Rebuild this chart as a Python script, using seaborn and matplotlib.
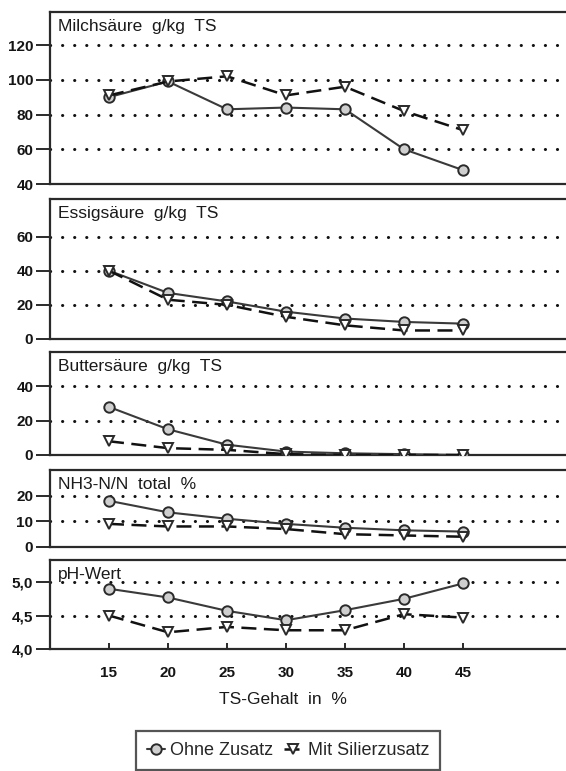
import numpy as np
import pandas as pd
import matplotlib
matplotlib.use("Agg")
import matplotlib.pyplot as plt
import seaborn as sns

# TS-Gehalt (x-Achse)
ts_gehalt = [15, 20, 25, 30, 35, 40, 45]
varianten = ["Ohne Zusatz", "Mit Silierzusatz"]

# Werte je Panel: (ohne Zusatz, mit Silierzusatz)
milch_ohne = [90, 99, 83, 84, 83, 60, 48]
milch_mit = [91, 99, 102, 91, 96, 82, 71]
essig_ohne = [40, 27, 22, 16, 12, 10, 9]
essig_mit = [40, 23, 20, 13, 8, 5, 5]
butter_ohne = [28, 15, 6, 2, 1, 0.5, 0]
butter_mit = [8, 4, 3, 0.5, 0, 0, 0]
nh3_ohne = [18, 13.5, 11, 9, 7.5, 6.5, 6]
nh3_mit = [9, 8, 8, 7, 5, 4.5, 4]
ph_ohne = [4.90, 4.77, 4.57, 4.43, 4.58, 4.75, 4.98]
ph_mit = [4.50, 4.25, 4.33, 4.28, 4.28, 4.52, 4.47]

titel = ["Milchsäure  g/kg  TS", "Essigsäure  g/kg  TS", "Buttersäure  g/kg  TS",
         "NH3-N/N  total  %", "pH-Wert"]
y_ticks = [[40, 60, 80, 100, 120], [0, 20, 40, 60], [0, 20, 40],
           [0, 10, 20], [4.0, 4.5, 5.0]]
y_ticklabels = [["40", "60", "80", "100", "120"], ["0", "20", "40", "60"],
                ["0", "20", "40"], ["0", "10", "20"], ["4,0", "4,5", "5,0"]]
y_limits = [(40, 139), (0, 82), (0, 60), (0, 30), (4.0, 5.33)]

werte = [(milch_ohne, milch_mit), (essig_ohne, essig_mit),
         (butter_ohne, butter_mit), (nh3_ohne, nh3_mit), (ph_ohne, ph_mit)]

sns.set_theme(style="white")
plt.rcParams["font.family"] = ["Liberation Sans", "DejaVu Sans"]

W, H = 566, 771
fig = plt.figure(figsize=(W / 100, H / 100), dpi=100)

# panel boxes in pixels (top, bottom); left edge 50 px, runs past the right edge
panel_px = [(12, 184), (199, 339), (352, 455), (470, 547), (560, 649)]
left_px, right_px = 50, 581

ink = "#2a2a2a"
axes = []
for i, (top, bot) in enumerate(panel_px):
    ax = fig.add_axes([left_px / W, 1 - bot / H,
                       (right_px - left_px) / W, (bot - top) / H])
    ohne, mit = werte[i]
    df = pd.DataFrame({
        "TS": ts_gehalt * 2,
        "Wert": ohne + mit,
        "Variante": [varianten[0]] * 7 + [varianten[1]] * 7,
    })

    # dotted grid first
    for yt in y_ticks[i][1:]:
        ax.axhline(yt, color="#111111", lw=2.2, ls=(0, (0.05, 3.9)),
                   dash_capstyle="round", zorder=1)

    sns.lineplot(data=df, x="TS", y="Wert", hue="Variante", style="Variante",
                 palette={varianten[0]: "#3a3a3a", varianten[1]: "#111111"},
                 markers={varianten[0]: "o", varianten[1]: "v"},
                 dashes={varianten[0]: "", varianten[1]: (6, 3)},
                 markersize=7.5, legend=False, ax=ax, zorder=3)
    for ln, fc, lw in zip(ax.lines[-2:], ["#cfcfcf", "white"], [1.5, 1.8]):
        ln.set_markerfacecolor(fc)
        ln.set_markeredgecolor(ink)
        ln.set_markeredgewidth(1.4)
        ln.set_linewidth(lw)

    ax.set_xlim(10, 55)
    ax.set_ylim(*y_limits[i])
    ax.set_yticks(y_ticks[i])
    ax.set_yticklabels(y_ticklabels[i], fontweight="bold")
    ax.set_xlabel("")
    ax.set_ylabel("")
    ax.tick_params(axis="y", left=True, direction="out", length=10, width=1.4,
                   color=ink, pad=2, labelsize=11, labelcolor="#151515")
    for side in ["left", "top", "bottom"]:
        ax.spines[side].set_color(ink)
        ax.spines[side].set_linewidth(1.6)
    ax.spines["right"].set_visible(False)
    ax.set_facecolor("white")

    ax.annotate(titel[i], xy=(0, 1), xycoords="axes fraction",
                xytext=(6, -5), textcoords="offset points",
                ha="left", va="top", fontsize=12.5, color="#1a1a1a")

    if i < len(panel_px) - 1:
        ax.set_xticks([])
    else:
        ax.set_xticks(ts_gehalt)
        ax.set_xticklabels([str(t) for t in ts_gehalt], fontweight="bold")
        ax.tick_params(axis="x", bottom=True, direction="in", length=4,
                       width=1.4, color=ink, pad=12, labelsize=11,
                       labelcolor="#151515")
    axes.append(ax)

fig.text(283 / W, 1 - 700 / H, "TS-Gehalt  in  %", ha="center", va="center",
         fontsize=12.5, color="#1a1a1a")

handles = [axes[0].lines[-2], axes[0].lines[-1]]
leg = fig.legend(handles, varianten, loc="upper center",
                 bbox_to_anchor=(288 / W, 1 - 722 / H), ncol=2, frameon=True,
                 fancybox=False, edgecolor=ink, fontsize=13, handlelength=1.0,
                 handletextpad=0.3, columnspacing=0.6, borderpad=0.6)
leg.get_frame().set_linewidth(1.6)

fig.savefig("out.png", dpi=100, facecolor="white")
